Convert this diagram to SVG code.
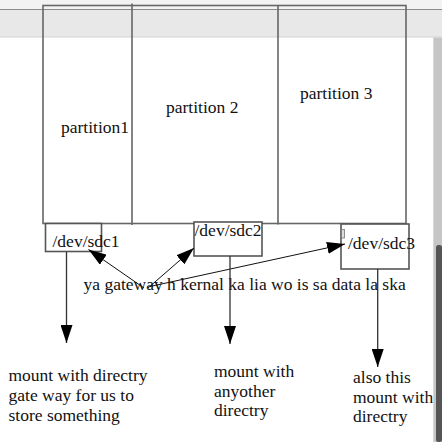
<svg xmlns="http://www.w3.org/2000/svg" width="442" height="442" viewBox="0 0 442 442">
<style>
  text { font-family: "Liberation Serif", "Times New Roman", serif; font-size: 17.5px; fill: #111; }
  .part { fill: none; stroke: #666; stroke-width: 1.6; }
  .box { fill: #fff; stroke: #555; stroke-width: 1.6; }
  .conn { fill: none; stroke: #111; stroke-width: 1; }
  .vconn { fill: none; stroke: #333; stroke-width: 1.3; }
</style>
<defs>
  <marker id="ah" markerUnits="userSpaceOnUse" markerWidth="18" markerHeight="12" refX="18" refY="6" orient="auto">
    <path d="M0,0 L18,6 L0,12 z" fill="#000"/>
  </marker>
</defs>
<rect x="0" y="0" width="442" height="442" fill="#fff"/>
<g id="chrome">
  <rect x="0" y="0" width="442" height="9.5" fill="#f2f2f2"/>
  <rect x="0" y="9.5" width="442" height="27.5" fill="#e8e8e8"/>
  <line x1="0" y1="9.5" x2="442" y2="9.5" stroke="#8c8c8c" stroke-width="1"/>
  <line x1="0" y1="37" x2="442" y2="37" stroke="#d2d2d2" stroke-width="1"/>
  <rect x="433.3" y="37.5" width="8.7" height="404.5" fill="#c6c6c6"/>
  <rect x="436" y="245" width="6" height="197" rx="2.5" fill="#555"/>
</g>
<g id="disk">
  <rect class="part" x="43" y="5.5" width="363" height="218"/>
  <line class="part" x1="132" y1="3.5" x2="132" y2="225"/>
  <line class="part" x1="278" y1="5.5" x2="278" y2="224.5"/>
  <text x="61" y="133">partition1</text>
  <text x="166" y="112.5">partition 2</text>
  <text x="300" y="98.5">partition 3</text>
</g>
<g id="sdc1">
  <rect class="box" x="45.5" y="223.5" width="56" height="28"/>
  <text x="52.5" y="247">/dev/sdc1</text>
</g>
<g id="sdc2">
  <rect class="box" x="194" y="222" width="68" height="34"/>
  <text x="194.5" y="236">/dev/sdc2</text>
</g>
<g id="sdc3">
  <rect class="box" x="341" y="224" width="68" height="45"/>
  <rect x="341.5" y="229.5" width="3" height="8.5" fill="#ddd" stroke="#777" stroke-width="0.8"/>
  <text x="348" y="248.5">/dev/sdc3</text>
</g>
<g id="gateway-label">
  <text x="83.5" y="289.5">ya gateway h kernal ka lia wo is sa data la ska</text>
</g>
<g id="mount1">
  <text x="8.5" y="381">mount with directry</text>
  <text x="8.5" y="401">gate way for us to</text>
  <text x="8.5" y="420.5">store something</text>
</g>
<g id="mount2">
  <text x="214" y="377">mount with</text>
  <text x="214" y="396.5">anyother</text>
  <text x="214" y="416">directry</text>
</g>
<g id="mount3">
  <text x="353" y="383">also this</text>
  <text x="353" y="402.5">mount with</text>
  <text x="353" y="422">directry</text>
</g>
<g id="connectors">
  <line class="conn" x1="144" y1="288" x2="88.5" y2="249.5" marker-end="url(#ah)"/>
  <line class="conn" x1="148" y1="288" x2="194" y2="248" marker-end="url(#ah)"/>
  <line class="conn" x1="150" y1="286.5" x2="345" y2="244" marker-end="url(#ah)"/>
  <line class="vconn" x1="66.5" y1="252" x2="66.5" y2="343" marker-end="url(#ah)"/>
  <line class="vconn" x1="230" y1="256" x2="230" y2="344" marker-end="url(#ah)"/>
  <line class="vconn" x1="377.7" y1="269" x2="377.7" y2="367" marker-end="url(#ah)"/>
</g>
</svg>
